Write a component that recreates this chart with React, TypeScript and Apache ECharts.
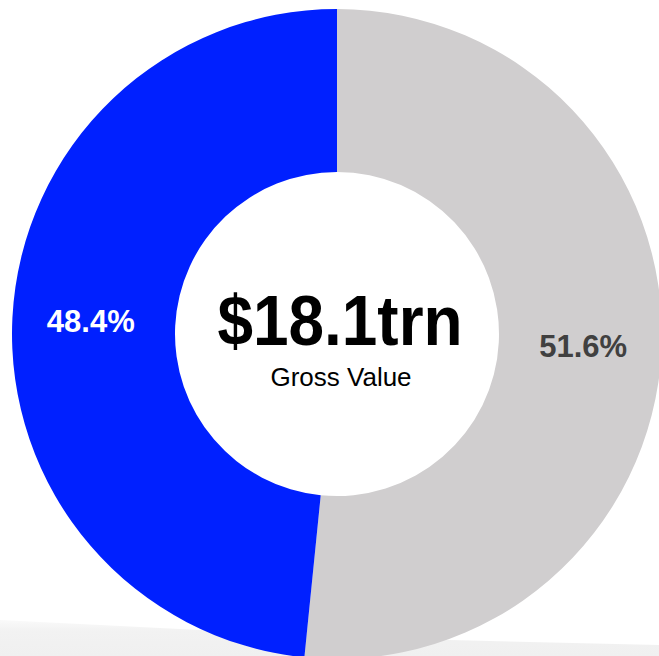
import React, { useEffect, useRef } from "react";
import * as echarts from "echarts";

const categories = ["Other", "Share"];
const shares = [51.6, 48.4];
const sliceColors = ["#D0CECF", "#0020FF"];
const labelColors = ["#404040", "#FFFFFF"];
const centerValue = "$18.1trn";
const centerCaption = "Gross Value";

export default function App() {
  const ref = useRef<HTMLDivElement>(null);
  useEffect(() => {
    if (!ref.current) return;
    const chart = echarts.init(ref.current, undefined, { renderer: "svg" });
    chart.setOption({
      animation: false,
      backgroundColor: "#FFFFFF",
      graphic: [
        {
          type: "polygon",
          z: -10,
          silent: true,
          shape: { points: [[0, 620], [200, 630], [450, 640], [659, 645], [659, 656], [0, 656]] },
          style: {
            fill: new echarts.graphic.LinearGradient(0, 0, 0, 1, [
              { offset: 0, color: "#FAFAFA" },
              { offset: 0.3, color: "#F2F2F2" },
              { offset: 1, color: "#F0F0F0" },
            ]),
          },
        },
        {
          type: "text",
          x: 340,
          y: 320,
          scaleX: 0.9,
          z: 10,
          silent: true,
          style: {
            text: centerValue,
            fontSize: 71,
            fontWeight: "bold",
            fontFamily: "Liberation Sans, Arial, sans-serif",
            fill: "#000000",
            textAlign: "center",
            textVerticalAlign: "middle",
          },
        },
        {
          type: "text",
          x: 341,
          y: 377,
          z: 10,
          silent: true,
          style: {
            text: centerCaption,
            fontSize: 26,
            fontFamily: "Liberation Sans, Arial, sans-serif",
            fill: "#000000",
            textAlign: "center",
            textVerticalAlign: "middle",
          },
        },
      ],
      series: [
        {
          type: "pie",
          silent: true,
          center: [337, 334],
          radius: [162, 325],
          startAngle: 90,
          clockwise: true,
          avoidLabelOverlap: false,
          emphasis: { disabled: true },
          label: {
            show: true,
            position: "inside",
            fontSize: 31,
            fontWeight: "bold",
            fontFamily: "Liberation Sans, Arial, sans-serif",
            formatter: (p: any) => `${Number(p.value).toFixed(1)}%`,
          },
          labelLine: { show: false },
          data: categories.map((name, i) => ({
            name,
            value: shares[i],
            itemStyle: { color: sliceColors[i], borderWidth: 0 },
            label: { color: labelColors[i] },
          })),
        },
      ],
    });
    return () => chart.dispose();
  }, []);
  return (
    <div
      ref={ref}
      style={{ position: "fixed", left: 0, top: 0, width: 659, height: 656 }}
    />
  );
}
